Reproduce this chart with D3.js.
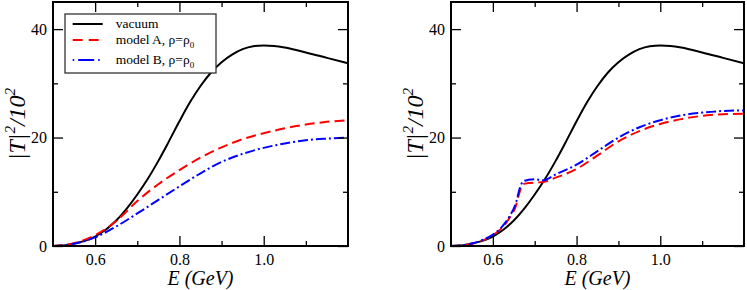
<!DOCTYPE html>
<html><head><meta charset="utf-8">
<script src="https://cdn.jsdelivr.net/npm/d3@7"></script>
<style>body{margin:0;background:#fff}svg{display:block}</style>
</head><body>
<svg id="c" width="747" height="290"></svg>
<script>
// ---- data ----
const energyVac = [0.5,0.525,0.55,0.575,0.6,0.625,0.65,0.675,0.7,0.725,0.75,0.775,0.8,0.825,0.85,0.875,0.9,0.925,0.95,0.975,1.0,1.025,1.05,1.1,1.15,1.2];
const vacuum    = [0,0.1,0.45,0.95,1.75,3.0,4.7,6.9,9.5,12.4,15.7,19.3,23.0,26.5,29.5,32.0,33.9,35.3,36.3,36.85,37.0,36.9,36.6,35.7,34.7,33.7];

const energyLeft = [0.5,0.55,0.6,0.65,0.7,0.75,0.8,0.85,0.9,0.95,1.0,1.05,1.1,1.15,1.2];
const modelALeft = [0,0.5,2.0,4.6,8.3,11.4,14.0,16.3,18.2,19.7,20.8,21.7,22.4,22.9,23.2];
const modelBLeft = [0,0.4,1.6,3.6,6.0,8.5,11.0,13.4,15.5,17.0,18.1,18.9,19.5,19.8,20.0];

const energyRight = [0.5,0.525,0.55,0.575,0.6,0.62,0.64,0.655,0.665,0.672,0.685,0.7,0.72,0.75,0.8,0.85,0.9,0.95,1.0,1.05,1.1,1.15,1.2];
const modelARight = [0,0.1,0.4,1.0,2.0,3.2,5.2,7.4,10.2,11.4,11.6,11.7,11.8,12.6,14.2,16.7,19.3,21.2,22.5,23.4,24.0,24.3,24.4];
const modelBRight = [0,0.1,0.45,1.1,2.1,3.4,5.5,7.9,10.8,11.9,12.2,12.3,12.1,13.2,15.0,17.5,20.0,21.9,23.2,24.1,24.6,24.9,25.0];

const xMajor = [0.6,0.8,1.0];
const xMajorLabels = ["0.6","0.8","1.0"];
const xMinor = [0.7,0.9,1.1];
const yMajor = [0,20,40];
const yMinor = [10,30];
const legendLabels = ["vacuum","model A, ρ=ρ","model B, ρ=ρ"];

// ---- drawing ----
const svg = d3.select("#c");
const serif = "'Liberation Serif','Times New Roman',serif";

const panels = [
  {left:53, right:348, a:modelALeft, b:modelBLeft, ex:energyLeft, legend:true},
  {left:451, right:744, a:modelARight, b:modelBRight, ex:energyRight, legend:false}
];
const yTop = 2, yBottom = 246;

panels.forEach((p,i)=>{
  const x = d3.scaleLinear().domain([0.5,1.2]).range([p.left,p.right]);
  const y = d3.scaleLinear().domain([0,45]).range([yBottom,yTop]);
  const g = svg.append("g");
  const cid = "clip"+i;
  svg.append("clipPath").attr("id",cid).append("rect")
    .attr("x",p.left).attr("y",yTop).attr("width",p.right-p.left).attr("height",yBottom-yTop);

  const line = (xs,ys)=> d3.line().x((d,k)=>x(xs[k])).y(d=>y(d)).curve(d3.curveMonotoneX)(ys);
  const cg = g.append("g").attr("clip-path",`url(#${cid})`);
  cg.append("path").attr("d",line(energyVac,vacuum)).attr("fill","none").attr("stroke","#000").attr("stroke-width",2);
  cg.append("path").attr("d",line(p.ex,p.a)).attr("fill","none").attr("stroke","#f00").attr("stroke-width",2).attr("stroke-dasharray","10,5");
  cg.append("path").attr("d",line(p.ex,p.b)).attr("fill","none").attr("stroke","#00f").attr("stroke-width",2).attr("stroke-dasharray","10,3,2,3");

  const axB = d3.axisBottom(x).tickValues(xMajor).tickSize(-10).tickFormat((d,k)=>xMajorLabels[k]);
  const axBm = d3.axisBottom(x).tickValues(xMinor).tickSize(-5).tickFormat("");
  const axT = d3.axisTop(x).tickValues(xMajor).tickSize(-10).tickFormat("");
  const axTm = d3.axisTop(x).tickValues(xMinor).tickSize(-5).tickFormat("");
  const axL = d3.axisLeft(y).tickValues(yMajor).tickSize(-10);
  const axLm = d3.axisLeft(y).tickValues(yMinor).tickSize(-5).tickFormat("");
  const axR = d3.axisRight(y).tickValues(yMajor).tickSize(-10).tickFormat("");
  const axRm = d3.axisRight(y).tickValues(yMinor).tickSize(-5).tickFormat("");
  const put = (ax,tr)=>{
    const a = g.append("g").attr("transform",tr).call(ax);
    a.select(".domain").remove();
    a.selectAll(".tick line").attr("stroke","#000").attr("stroke-width",1.3);
    a.selectAll("text").attr("font-family",serif).attr("font-size",16).attr("fill","#000");
    return a;
  };
  const bx = put(axB,`translate(0,${yBottom})`);
  bx.selectAll("text").attr("dy","0.71em").attr("y",8);
  put(axBm,`translate(0,${yBottom})`);
  put(axT,`translate(0,${yTop})`);
  put(axTm,`translate(0,${yTop})`);
  const ly = put(axL,`translate(${p.left},0)`);
  ly.selectAll("text").attr("x",-6);
  put(axLm,`translate(${p.left},0)`);
  put(axR,`translate(${p.right},0)`);
  put(axRm,`translate(${p.right},0)`);

  g.append("rect").attr("x",p.left).attr("y",yTop).attr("width",p.right-p.left).attr("height",yBottom-yTop)
    .attr("fill","none").attr("stroke","#000").attr("stroke-width",2);

  g.append("text").attr("x",(p.left+p.right)/2).attr("y",285).attr("text-anchor","middle")
    .attr("font-family",serif).attr("font-size",20).attr("font-style","italic").text("E (GeV)");

  const yt = g.append("text").attr("transform",`translate(${p.left-28},${(yTop+yBottom)/2}) rotate(-90)`)
    .attr("text-anchor","middle").attr("font-family",serif).attr("font-size",24).attr("font-style","italic");
  yt.append("tspan").text("|T|");
  yt.append("tspan").attr("font-size",15).attr("dy",-10).text("2");
  yt.append("tspan").attr("dy",10).text("/10");
  yt.append("tspan").attr("font-size",15).attr("dy",-10).text("2");

  if(p.legend){
    const lg = g.append("g");
    lg.append("rect").attr("x",65).attr("y",14).attr("width",151).attr("height",59)
      .attr("fill","#fff").attr("stroke","#333").attr("stroke-width",1.3);
    const rows = [24,40,60];
    const styles = [{c:"#000",d:null},{c:"#f00",d:"10,6"},{c:"#00f",d:"1.5,4,16,4"}];
    rows.forEach((ry,k)=>{
      lg.append("line").attr("x1",72.7).attr("x2",102.7).attr("y1",ry).attr("y2",ry)
        .attr("stroke",styles[k].c).attr("stroke-width",2).attr("stroke-dasharray",styles[k].d);
      const t = lg.append("text").attr("x",115.7).attr("y",ry+4).attr("font-family",serif).attr("font-size",13.5).text(legendLabels[k]);
      if(k>0) t.append("tspan").attr("font-size",9).attr("dy",4).text("0");
    });
  }
});
</script>
</body></html>
